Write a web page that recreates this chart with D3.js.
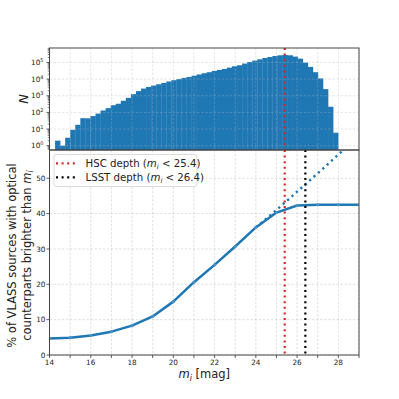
<!DOCTYPE html>
<html><head><meta charset="utf-8">
<script src="https://cdn.jsdelivr.net/npm/d3@7"></script>
<style>body{margin:0;background:#fff} svg{display:block} text{font-family:"DejaVu Sans",sans-serif;fill:#222}</style>
</head><body><svg id="c" width="399" height="399"></svg>
<script>
// ---- data ----
const histCounts = [2,1,3,9,18,45,44,60,85,130,180,270,330,500,750,1250,1900,2700,
  3400,4100,4900,5900,7200,8600,10000,11800,13500,16000,19000,22500,26000,31000,35500,41000,49000,59000,68000,
  86000,107000,130000,155000,186000,214000,245000,270000,280000,270000,225000,170000,98000,54000,26000,11000,2500,218,6];
const binStart = 14.27, binWidth = 0.245;
const mags = [14,15,16,17,18,19,20,21,22,23,24,25,26,27,28,29];
const pctBrighter = [4.7,4.9,5.5,6.6,8.3,10.9,15.1,20.6,25.5,30.7,36.1,40.3,42.3,42.5,42.5,42.5];
const extrapMags = [24,25,26,27,28,29];
const extrapPct = [36.1,41.0,46.2,51.4,56.7,62.0];
const hscDepth = 25.4, lsstDepth = 26.4;
const xTickValues = [14,15,16,17,18,19,20,21,22,23,24,25,26,27,28,29];
const xTickLabels = [14,16,18,20,22,24,26,28];
const yTicksBottom = [0,10,20,30,40,50];
const yTicksTop = [1,10,100,1000,10000,100000];

// ---- layout ----
const svg = d3.select("#c");
const L = 49.5, R = 359, T1 = 48, B1 = 150, T2 = 150, B2 = 355;
const x = d3.scaleLinear().domain([14,29]).range([L,R]);
const yTop = d3.scaleLog().domain([0.55,7.4e5]).range([B1,T1]);
const yBot = d3.scaleLinear().domain([0,58]).range([B2,T2]);
const blue = "#1f77b4", red = "#d62728";
const gridStyle = g => g.attr("stroke","#b8b8b8").attr("stroke-width",0.7).attr("stroke-dasharray","2.5,1.6").attr("opacity",0.6);

svg.append("defs").call(d=>{
  d.append("clipPath").attr("id","cTop").append("rect").attr("x",L).attr("y",T1).attr("width",R-L).attr("height",B1-T1);
  d.append("clipPath").attr("id","cBot").append("rect").attr("x",L).attr("y",T2).attr("width",R-L).attr("height",B2-T2);
});

// ---- top panel ----
const gTop = svg.append("g");
gTop.append("g").attr("clip-path","url(#cTop)").selectAll("rect").data(histCounts).join("rect")
  .attr("x",(d,i)=>x(binStart+i*binWidth))
  .attr("width",(d,i)=>x(binStart+(i+1)*binWidth)-x(binStart+i*binWidth)+0.3)
  .attr("y",d=>yTop(d)).attr("height",d=>B1-yTop(d)).attr("fill",blue);
// grid (on top of bars)
const gt = gTop.append("g").attr("opacity",0.8);
gt.selectAll("line.v").data(xTickValues).join("line").attr("class","v")
  .attr("x1",d=>x(d)).attr("x2",d=>x(d)).attr("y1",T1).attr("y2",B1).call(gridStyle);
gt.selectAll("line.h").data(yTicksTop).join("line").attr("class","h")
  .attr("x1",L).attr("x2",R).attr("y1",d=>yTop(d)).attr("y2",d=>yTop(d)).call(gridStyle);
// HSC line in top
gTop.append("line").attr("x1",x(hscDepth)).attr("x2",x(hscDepth)).attr("y1",T1).attr("y2",B1)
  .attr("stroke",red).attr("stroke-width",2.2).attr("stroke-dasharray","2,3.6");
// y axis top
const minor = [];
for (let e=-1;e<=5;e++) for (let m=2;m<=9;m++){const v=m*Math.pow(10,e); if(v>=0.55&&v<=7.4e5) minor.push(v);}
gTop.selectAll("line.mn").data(minor).join("line").attr("class","mn")
  .attr("x1",L-1.8).attr("x2",L).attr("y1",d=>yTop(d)).attr("y2",d=>yTop(d)).attr("stroke","#333").attr("stroke-width",0.6);
gTop.selectAll("line.mj").data(yTicksTop).join("line").attr("class","mj")
  .attr("x1",L-3).attr("x2",L).attr("y1",d=>yTop(d)).attr("y2",d=>yTop(d)).attr("stroke","#333").attr("stroke-width",0.8);
const tl = gTop.selectAll("text.tl").data(yTicksTop).join("text").attr("class","tl")
  .attr("x",43.5).attr("y",d=>yTop(d)+2.6).attr("text-anchor","end").attr("font-size",7.3);
tl.append("tspan").text("10");
tl.append("tspan").attr("font-size",5).attr("dy",-3).text(d=>Math.round(Math.log10(d)));
gTop.append("rect").attr("x",L).attr("y",T1).attr("width",R-L).attr("height",B1-T1)
  .attr("fill","none").attr("stroke","#444").attr("stroke-width",1);
gTop.append("text").attr("transform",`translate(28,${(T1+B1)/2}) rotate(-90)`).attr("text-anchor","middle")
  .attr("font-size",13).attr("font-style","italic").text("N");

// ---- bottom panel ----
const bot = svg.append("g");
const gb = bot.append("g");
gb.selectAll("line.v").data(xTickValues).join("line").attr("class","v")
  .attr("x1",d=>x(d)).attr("x2",d=>x(d)).attr("y1",T2).attr("y2",B2).call(gridStyle);
gb.selectAll("line.h").data(yTicksBottom).join("line").attr("class","h")
  .attr("x1",L).attr("x2",R).attr("y1",d=>yBot(d)).attr("y2",d=>yBot(d)).call(gridStyle);
const pc = bot.append("g").attr("clip-path","url(#cBot)");
pc.append("path").datum(extrapMags.map((m,i)=>[m,extrapPct[i]]))
  .attr("d",d3.line().x(d=>x(d[0])).y(d=>yBot(d[1])))
  .attr("fill","none").attr("stroke",blue).attr("stroke-width",2.4).attr("stroke-dasharray","2.3,3.6");
pc.append("path").datum(mags.map((m,i)=>[m,pctBrighter[i]]))
  .attr("d",d3.line().x(d=>x(d[0])).y(d=>yBot(d[1])))
  .attr("fill","none").attr("stroke",blue).attr("stroke-width",2.5).attr("stroke-linejoin","round");
pc.selectAll("circle").data(mags).join("circle").attr("cx",d=>x(d)).attr("cy",(d,i)=>yBot(pctBrighter[i]))
  .attr("r",1.6).attr("fill","#4a90c4");
pc.append("line").attr("x1",x(hscDepth)).attr("x2",x(hscDepth)).attr("y1",T2).attr("y2",B2)
  .attr("stroke",red).attr("stroke-width",2.2).attr("stroke-dasharray","2,3.6");
pc.append("line").attr("x1",x(lsstDepth)).attr("x2",x(lsstDepth)).attr("y1",T2).attr("y2",B2)
  .attr("stroke","#000").attr("stroke-width",2.2).attr("stroke-dasharray","2,3.6");
// axes
bot.selectAll("line.xt").data(xTickValues).join("line").attr("class","xt")
  .attr("x1",d=>x(d)).attr("x2",d=>x(d)).attr("y1",B2).attr("y2",B2+3).attr("stroke","#333").attr("stroke-width",0.8);
bot.selectAll("text.xl").data(xTickLabels).join("text").attr("class","xl")
  .attr("x",d=>x(d)).attr("y",364.5).attr("text-anchor","middle").attr("font-size",7.3).text(d=>d);
bot.selectAll("line.yt").data(yTicksBottom).join("line").attr("class","yt")
  .attr("x1",L-3).attr("x2",L).attr("y1",d=>yBot(d)).attr("y2",d=>yBot(d)).attr("stroke","#333").attr("stroke-width",0.8);
bot.selectAll("text.yl").data(yTicksBottom).join("text").attr("class","yl")
  .attr("x",45.5).attr("y",d=>yBot(d)+2.6).attr("text-anchor","end").attr("font-size",7.3).text(d=>d);
bot.append("rect").attr("x",L).attr("y",T2).attr("width",R-L).attr("height",B2-T2)
  .attr("fill","none").attr("stroke","#444").attr("stroke-width",1);
// legend
const lg = bot.append("g");
lg.append("rect").attr("x",54).attr("y",154.5).attr("width",143).attr("height",32).attr("rx",2.5)
  .attr("fill","#fff").attr("fill-opacity",0.85).attr("stroke","#d0d0d0").attr("stroke-width",0.8);
const legItems = [{c:red, lbl:"HSC depth (", v:hscDepth},{c:"#000", lbl:"LSST depth (", v:lsstDepth}];
legItems.forEach((it,i)=>{
  const yy = 163.3 + i*14;
  lg.append("line").attr("x1",56).attr("x2",77).attr("y1",yy).attr("y2",yy)
    .attr("stroke",it.c).attr("stroke-width",2.2).attr("stroke-dasharray","2,3.6");
  const t = lg.append("text").attr("x",85.5).attr("y",yy+3.4).attr("font-size",10.2);
  t.append("tspan").text(it.lbl);
  t.append("tspan").attr("font-style","italic").text("m");
  t.append("tspan").attr("font-style","italic").attr("font-size",7).attr("dy",2).text("i");
  t.append("tspan").attr("dy",-2).text(" < "+it.v+")");
});
// axis labels
const xl = bot.append("text").attr("x",(L+R)/2).attr("y",378).attr("text-anchor","middle").attr("font-size",11.5);
xl.append("tspan").attr("font-style","italic").text("m");
xl.append("tspan").attr("font-style","italic").attr("font-size",8).attr("dy",2.5).text("i");
xl.append("tspan").attr("dy",-2.5).text(" [mag]");
const yc = (T2+B2)/2 + 3;
bot.append("text").attr("transform",`translate(15.5,${yc}) rotate(-90)`).attr("text-anchor","middle")
  .attr("font-size",11.5).text("% of VLASS sources with optical");
const y2 = bot.append("text").attr("transform",`translate(30.5,${yc}) rotate(-90)`).attr("text-anchor","middle").attr("font-size",11.5);
y2.append("tspan").text("counterparts brighter than ");
y2.append("tspan").attr("font-style","italic").text("m");
y2.append("tspan").attr("font-style","italic").attr("font-size",8).attr("dy",2.5).text("i");
</script></body></html>
